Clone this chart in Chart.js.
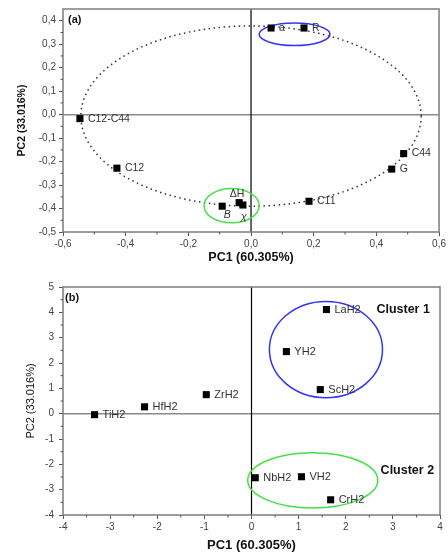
<!DOCTYPE html>
<html>
<head>
<meta charset="utf-8">
<script src="https://cdn.jsdelivr.net/npm/chart.js@4"></script>
<style>
  html, body { margin: 0; padding: 0; background: #fff; }
  #wrap { position: relative; width: 448px; height: 553px; }
  .box { position: absolute; left: 0; width: 448px; }
  #boxA { top: 0; height: 268px; }
  #boxB { top: 268px; height: 285px; }
</style>
</head>
<body>
<div id="wrap">
  <div class="box" id="boxA"><canvas id="chartA"></canvas></div>
  <div class="box" id="boxB"><canvas id="chartB"></canvas></div>
</div>
<script>
// (a) variable loadings
const aNames = ['C12-C44', 'C12', 'B', 'ΔH', 'χ', 'a', 'R', 'C44', 'G', 'C11'];
const aPC1 = [-0.546, -0.428, -0.092, -0.038, -0.026, 0.064, 0.169, 0.487, 0.449, 0.185];
const aPC2 = [-0.017, -0.228, -0.390, -0.375, -0.385, 0.369, 0.369, -0.166, -0.232, -0.369];
const aXTicks = [-0.6, -0.4, -0.2, 0, 0.2, 0.4, 0.6];
const aYTicks = [-0.5, -0.4, -0.3, -0.2, -0.1, 0, 0.1, 0.2, 0.3, 0.4];

// (b) compound scores
const bNames = ['TiH2', 'HfH2', 'ZrH2', 'LaH2', 'YH2', 'ScH2', 'NbH2', 'VH2', 'CrH2'];
const bPC1 = [-3.33, -2.27, -0.96, 1.59, 0.74, 1.46, 0.08, 1.06, 1.68];
const bPC2 = [-0.04, 0.27, 0.75, 4.11, 2.45, 0.95, -2.53, -2.49, -3.40];
const bXTicks = [-4, -3, -2, -1, 0, 1, 2, 3, 4];
const bYTicks = [-4, -3, -2, -1, 0, 1, 2, 3, 4, 5];

const FONT = '"Liberation Sans", Arial, sans-serif';

// draws frame, zero lines, ellipses, minor ticks and text labels
const decoPlugin = {
  id: 'deco',
  beforeDatasetsDraw(chart, args, opts) {
    const { ctx, chartArea: area, scales: { x, y } } = chart;
    ctx.save();
    const y0 = y.getPixelForValue(0);
    const x0 = x.getPixelForValue(0);
    ctx.strokeStyle = '#8a8a8a';
    ctx.lineWidth = 1.5;
    ctx.beginPath(); ctx.moveTo(area.left, y0); ctx.lineTo(area.right, y0); ctx.stroke();
    ctx.strokeStyle = '#000';
    ctx.lineWidth = 1.2;
    ctx.beginPath(); ctx.moveTo(x0, area.top); ctx.lineTo(x0, area.bottom); ctx.stroke();

    (opts.ellipses || []).forEach(e => {
      const cx = x.getPixelForValue(e.cx), cy = y.getPixelForValue(e.cy);
      const rx = Math.abs(x.getPixelForValue(e.cx + e.rx) - cx);
      const ry = Math.abs(y.getPixelForValue(e.cy + e.ry) - cy);
      ctx.strokeStyle = e.color;
      ctx.lineWidth = e.width;
      ctx.setLineDash(e.dash || []);
      ctx.beginPath(); ctx.ellipse(cx, cy, rx, ry, 0, 0, Math.PI * 2); ctx.stroke();
    });
    ctx.setLineDash([]);

    // frame
    ctx.strokeStyle = '#7c7c7c';
    ctx.lineWidth = 1.5;
    ctx.strokeRect(area.left, area.top, area.right - area.left, area.bottom - area.top);

    // minor ticks at midpoints
    ctx.strokeStyle = '#555';
    ctx.lineWidth = 1;
    const xt = opts.xTicks, yt = opts.yTicks;
    for (let i = 0; i < xt.length - 1; i++) {
      const px = x.getPixelForValue((xt[i] + xt[i + 1]) / 2);
      ctx.beginPath(); ctx.moveTo(px, area.bottom); ctx.lineTo(px, area.bottom + 2.5); ctx.stroke();
    }
    for (let i = 0; i < yt.length - 1; i++) {
      const py = y.getPixelForValue((yt[i] + yt[i + 1]) / 2);
      ctx.beginPath(); ctx.moveTo(area.left - 2.5, py); ctx.lineTo(area.left, py); ctx.stroke();
    }
    ctx.restore();
  },
  afterDatasetsDraw(chart, args, opts) {
    const { ctx, chartArea: area, scales: { x, y } } = chart;
    const meta = chart.getDatasetMeta(0);
    ctx.save();
    ctx.textBaseline = 'middle';
    ctx.fillStyle = '#333';
    meta.data.forEach((pt, i) => {
      const name = opts.names[i];
      const pos = (opts.labelPos && opts.labelPos[name]) || { dx: 8, dy: 0, align: 'left' };
      ctx.font = (pos.italic ? 'italic ' : '') + opts.labelSize + 'px ' + FONT;
      ctx.textAlign = pos.align;
      ctx.fillText(name, pt.x + pos.dx, pt.y + pos.dy);
    });

    ctx.fillStyle = '#111';
    ctx.textAlign = 'left';
    ctx.font = 'bold 11px ' + FONT;
    ctx.fillText(opts.tag, area.left + opts.tagDx, area.top + opts.tagDy);

    (opts.notes || []).forEach(n => {
      ctx.font = 'bold 12.5px ' + FONT;
      ctx.fillText(n.text, x.getPixelForValue(n.x), y.getPixelForValue(n.y));
    });
    ctx.restore();
  }
};

function makeChart(id, o) {
  const points = o.names.map((n, i) => ({ x: o.px[i], y: o.py[i] }));
  return new Chart(document.getElementById(id), {
    type: 'scatter',
    data: {
      datasets: [{
        data: points,
        pointStyle: 'rect',
        pointRadius: 5,
        pointHoverRadius: 5,
        backgroundColor: '#000',
        borderColor: '#000',
        borderWidth: 0
      }]
    },
    options: {
      responsive: true,
      maintainAspectRatio: false,
      animation: false,
      events: [],
      layout: { padding: { top: o.padTop, right: 8, left: 0, bottom: 0 } },
      plugins: {
        legend: { display: false },
        tooltip: { enabled: false },
        deco: o.deco
      },
      scales: {
        x: {
          type: 'linear',
          min: o.xTicks[0],
          max: o.xTicks[o.xTicks.length - 1],
          afterBuildTicks: s => { s.ticks = o.xTicks.map(v => ({ value: v })); },
          afterFit: s => { s.height = o.xAxisH; },
          grid: { drawOnChartArea: false, drawTicks: true, tickLength: 4, color: '#555' },
          border: { display: false },
          ticks: {
            font: { family: FONT, size: 10 },
            color: '#444',
            padding: 2,
            maxRotation: 0,
            callback: o.fmt
          },
          title: {
            display: true,
            text: 'PC1 (60.305%)',
            font: { family: FONT, size: o.xTitleSize, weight: 'bold' },
            color: '#111',
            padding: { top: 0, bottom: o.xTitlePad }
          }
        },
        y: {
          type: 'linear',
          min: o.yMin,
          max: o.yMax,
          afterBuildTicks: s => { s.ticks = o.yTicks.map(v => ({ value: v })); },
          afterFit: s => { s.width = 63; },
          grid: { drawOnChartArea: false, drawTicks: true, tickLength: 4, color: '#555' },
          border: { display: false },
          ticks: {
            font: { family: FONT, size: 10 },
            color: '#444',
            padding: o.yTickPad,
            callback: o.fmt
          },
          title: {
            display: true,
            text: 'PC2 (33.016%)',
            font: { family: FONT, size: o.yTitleSize, weight: o.yTitleWeight },
            color: '#111',
            padding: { top: o.yTitlePad, bottom: 0 }
          }
        }
      }
    },
    plugins: [decoPlugin]
  });
}

makeChart('chartA', {
  names: aNames, px: aPC1, py: aPC2,
  xTicks: aXTicks, yTicks: aYTicks, yMin: -0.5, yMax: 0.45,
  padTop: 3, xAxisH: 36, xTitleSize: 12.5, xTitlePad: 3,
  yTitleSize: 10.5, yTitleWeight: 'bold', yTitlePad: 16, yTickPad: 3,
  fmt: v => v.toFixed(1).replace('.', ','),
  deco: {
    names: aNames, xTicks: aXTicks, yTicks: aYTicks, labelSize: 10.5,
    tag: '(a)', tagDx: 5, tagDy: 11,
    labelPos: {
      'ΔH': { dx: -2, dy: -9, align: 'center' },
      'B': { dx: 5, dy: 9, align: 'center', italic: true },
      'χ': { dx: 1, dy: 12, align: 'center', italic: true }
    },
    ellipses: [
      { cx: 0, cy: -0.006, rx: 0.543, ry: 0.384, color: '#333', width: 1.5, dash: [1.5, 3.5] },
      { cx: 0.139, cy: 0.342, rx: 0.113, ry: 0.048, color: '#3333f5', width: 1.5 },
      { cx: -0.062, cy: -0.388, rx: 0.088, ry: 0.073, color: '#44e044', width: 1.5 }
    ]
  }
});

makeChart('chartB', {
  names: bNames, px: bPC1, py: bPC2,
  xTicks: bXTicks, yTicks: bYTicks, yMin: -4, yMax: 5,
  padTop: 19, xAxisH: 38, xTitleSize: 13, xTitlePad: 0,
  yTitleSize: 11, yTitleWeight: 'normal', yTitlePad: 24, yTickPad: 5,
  fmt: v => String(v),
  deco: {
    names: bNames, xTicks: bXTicks, yTicks: bYTicks, labelSize: 11,
    tag: '(b)', tagDx: 2, tagDy: 11,
    ellipses: [
      { cx: 1.58, cy: 2.53, rx: 1.2, ry: 1.9, color: '#3333f5', width: 1.5 },
      { cx: 1.30, cy: -2.63, rx: 1.38, ry: 1.09, color: '#44e044', width: 1.5 }
    ],
    notes: [
      { text: 'Cluster 1', x: 2.65, y: 4.11 },
      { text: 'Cluster 2', x: 2.74, y: -2.25 }
    ]
  }
});
</script>
</body>
</html>
